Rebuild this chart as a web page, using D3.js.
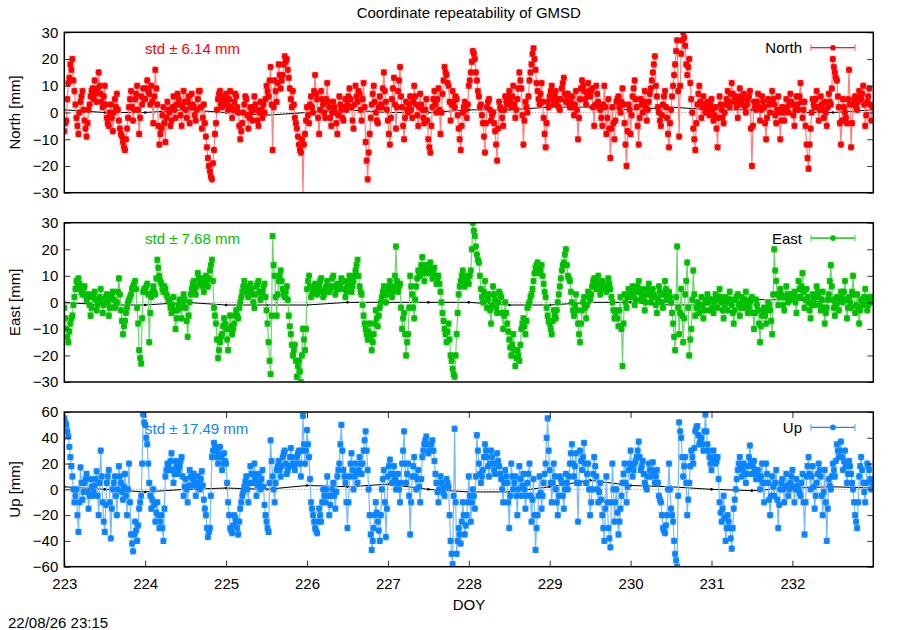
<!DOCTYPE html>
<html>
<head>
<meta charset="utf-8">
<script src="https://cdn.jsdelivr.net/npm/d3@7.9.0/dist/d3.min.js"></script>
<style>
  body { margin: 0; background: #fff; }
  svg { font-family: "Liberation Sans", Arial, sans-serif; }
</style>
</head>
<body>
<svg id="chart" width="900" height="630"></svg>
<script>
// epochs: 80 solutions per day starting at DOY 223.0
const startDoy = 223;
const epochsPerDay = 80;

// North [mm], four rows of 20 per day (223 ... 232)
const north = [
  -7,-4,-3,5,11,13,18,16,20,12,8,3,-2,-5,-8,0,4,6,8,1,
  -3,-6,-9,-4,1,3,6,8,9,5,12,7,4,9,15,10,7,4,2,6,
  10,3,-2,-4,-5,0,3,-2,-7,0,5,2,7,1,-3,-6,-8,-9,-11,-13,
  -14,-10,-6,-2,2,5,8,2,-3,1,5,7,10,1,-8,-2,6,3,9,5,
  5,9,12,8,7,3,10,4,-4,6,16,9,3,-5,-12,-8,-6,-1,2,-4,
  -11,-2,4,1,0,-5,-3,2,6,1,-2,3,7,5,3,-1,-5,2,8,4,
  1,-2,4,6,-4,2,7,3,2,-1,-3,1,5,8,8,2,-6,-2,3,-4,
  -9,-13,-17,-20,-22,-24,-25,-19,-14,-8,-4,1,5,7,8,3,2,5,6,4,
  7,3,1,5,8,2,-2,1,4,7,6,2,0,-5,-10,-7,-4,0,3,6,
  5,-1,-6,-2,2,0,-3,2,6,3,1,-3,-5,0,4,1,-2,3,0,5,
  10,8,6,12,17,3,-14,2,12,8,4,11,18,14,9,12,14,18,21,19,
  20,16,13,9,5,2,8,3,-2,-4,-6,-9,-12,-14,-15,-10,-31,-12,-8,-3,
  2,-1,-4,3,6,2,0,8,14,7,5,-2,-8,1,8,5,3,0,-2,5,
  11,4,2,-2,-5,0,4,2,0,-4,-8,-1,6,3,1,-2,-3,2,5,1,
  3,6,9,5,2,-3,-6,3,10,6,4,8,7,1,-3,5,11,2,-11,-18,
  -25,-15,-8,-2,3,7,10,4,0,-3,-4,2,6,3,2,9,15,8,4,1,
  -3,-8,-12,-2,5,9,13,3,-6,2,8,12,17,6,2,-5,-10,-2,4,1,
  0,3,6,1,-2,4,10,6,3,-1,-5,2,7,3,1,-2,-4,1,5,-3,
  -10,-13,-15,-5,2,5,8,3,0,5,9,1,-8,0,7,12,17,15,14,11,
  10,4,-3,3,8,4,2,6,5,-1,-6,-10,-14,-5,0,2,4,1,-2,3,
  10,12,15,19,23,22,20,15,12,8,6,2,3,-1,-4,-9,-15,-4,2,4,
  5,1,-3,-1,0,-4,-7,-12,-18,-6,4,2,1,-2,-5,1,6,4,3,6,
  8,4,2,6,10,3,-2,1,5,9,15,12,9,-1,-12,-3,4,2,0,6,
  12,15,18,22,24,20,16,11,8,5,3,7,11,4,-2,-8,-13,-4,4,2,
  6,8,10,5,3,6,8,3,5,2,1,5,9,11,13,7,4,6,7,3,
  2,4,6,2,-1,3,8,1,-10,-2,5,9,12,10,8,5,3,7,11,8,
  6,8,9,2,-5,3,10,7,4,2,1,-2,-5,3,10,2,-8,-2,5,-6,
  -17,-6,2,-4,-10,-3,4,5,6,2,0,4,9,3,-4,-12,-20,-7,3,1,
  -8,-1,6,9,12,5,2,-5,-12,-2,5,3,0,4,8,2,-3,1,4,7,
  9,12,15,18,21,10,6,2,0,-3,-5,-1,3,6,8,2,-2,-8,-13,-4,
  1,6,10,14,18,23,27,8,-9,10,22,27,30,28,25,18,14,17,20,11,
  5,0,-6,-10,-14,-4,3,7,10,4,-2,2,6,3,0,2,4,1,-1,3,
  5,1,-3,-1,2,-6,-13,-2,6,3,1,-2,-4,0,3,5,8,4,2,7,
  11,7,4,5,6,2,-2,4,9,6,3,5,7,2,0,3,5,6,8,-6,
  -20,-5,4,2,1,4,7,2,-3,1,6,4,2,-4,-10,-2,5,3,0,4,
  8,5,3,-1,-4,1,6,0,-10,-3,2,0,-3,1,5,2,0,3,7,4,
  3,-1,-5,1,6,3,1,6,11,4,-2,1,4,-5,-12,-17,-21,-12,-6,0,
  5,3,2,5,8,2,-3,1,6,3,1,-2,4,0,-5,2,7,4,3,9,
  20,17,15,13,12,6,2,-4,-12,-3,5,2,0,-2,-4,5,16,3,-13,-4,
  3,5,6,2,1,4,8,6,5,7,10,3,-5,-1,4,6,9,3,-3,2
];

// East [mm]
const east = [
  -2,-6,-10,-13,-15,-11,-8,-6,-5,-1,2,5,8,6,9,7,5,4,3,5,
  6,3,1,2,3,-1,-5,-2,2,3,4,1,-3,-1,0,2,5,1,-4,-1,
  1,2,3,0,-5,-2,2,3,4,1,-2,-1,0,4,9,3,-3,-7,-12,-9,
  -7,-4,-2,0,1,2,3,5,6,7,8,5,-2,-8,-18,-21,-23,-6,4,5,
  5,6,7,3,-15,-4,2,4,6,4,3,9,16,13,10,8,7,5,4,6,
  5,3,2,1,0,-2,-4,-1,2,-3,-10,-6,-3,-1,1,-2,-6,-1,3,1,
  -2,-7,-13,-5,0,3,5,7,8,5,3,6,11,9,7,8,9,6,4,7,
  10,8,6,9,12,14,16,8,-2,-5,-8,-14,-21,-18,-15,-13,-12,-9,-6,-8,
  -10,-14,-18,-10,-5,-9,-12,-10,-8,-5,-3,-5,-6,-2,0,2,4,6,8,6,
  5,3,2,4,7,5,3,0,-2,3,6,7,8,4,1,3,4,6,7,2,
  -3,-8,-15,-22,-27,-5,25,14,10,2,-5,3,8,10,12,8,5,3,2,4,
  6,1,-5,-9,-12,-16,-20,-18,-16,-22,-28,-24,-22,-26,-30,-20,-10,-14,-18,-10,
  5,8,10,6,2,3,4,6,7,5,3,5,6,8,9,4,2,3,5,6,
  8,6,4,5,6,9,10,6,3,5,7,6,5,7,9,8,8,5,2,4,
  6,8,10,7,4,6,8,10,12,14,16,10,6,4,3,-1,-5,-8,-10,-12,
  -14,-11,-8,-13,-18,-15,-12,-8,-3,-6,-9,-5,-2,0,2,4,6,3,0,3,
  5,6,8,4,2,4,6,10,21,8,4,6,7,-2,-10,-6,-4,-12,-20,-15,
  -12,-2,10,6,3,-2,-6,1,6,9,12,11,10,14,17,12,8,11,14,12,
  11,13,15,12,9,11,13,10,7,9,10,7,4,0,-4,-7,-10,-12,-15,-11,
  -8,-14,-20,-22,-25,-27,-28,-20,-12,-4,3,6,8,10,12,9,6,8,10,9,
  7,10,12,20,30,27,25,21,18,16,15,10,5,2,0,4,8,3,-2,1,
  3,-3,-8,-1,6,3,1,-2,-4,0,4,3,2,-4,-10,-5,0,-4,-8,-11,
  -14,-17,-20,-16,-12,-18,-24,-21,-18,-20,-22,-16,-10,-8,-6,-9,-12,-7,-2,-1,
  0,2,3,5,8,11,13,14,15,13,11,12,14,10,7,4,2,-2,-5,-7,
  -8,-10,-12,-7,-3,-5,-6,-3,0,3,6,9,12,14,15,18,20,14,10,9,
  8,4,0,-3,-5,-1,3,-3,-8,-12,-15,-8,-3,0,2,-2,-6,-1,4,2,
  1,3,6,8,9,7,5,8,10,6,3,5,8,7,7,5,4,6,9,7,
  5,2,0,-3,-6,-4,-3,-6,-9,-3,2,-10,-24,-8,3,0,-2,2,5,3,
  2,4,6,2,-1,1,4,6,8,4,1,3,5,1,-3,0,3,5,7,3,
  0,2,5,3,2,-1,-4,1,6,4,3,0,-2,3,8,5,1,2,4,2,
  0,-4,-8,-13,-18,2,21,-2,-12,-4,5,-5,-15,-6,3,8,15,-2,-20,-14,
  -10,1,12,3,-5,-2,0,-2,-4,-1,2,-2,-6,-3,0,1,3,0,-3,1,
  1,-2,-4,0,3,1,-2,2,5,2,0,-3,-6,-2,2,0,-3,1,4,1,
  -1,-4,-8,-3,1,2,3,-1,-5,-2,2,0,-2,1,4,0,-4,-2,0,1,
  2,-4,-10,-4,1,-1,-3,-8,-15,-9,-5,-3,-2,-5,-8,-3,0,-1,-3,-7,
  -12,3,20,12,8,3,-1,2,5,3,2,-1,-3,2,6,3,0,1,3,2,
  1,3,4,0,-4,2,8,5,2,6,11,4,-2,1,5,2,0,-3,-6,-1,
  3,1,-1,2,6,4,2,-1,-3,1,4,-2,-8,-4,-2,1,3,8,14,6,
  1,-2,-5,-1,2,0,-3,1,4,2,0,4,8,1,-6,-2,2,0,-2,4,
  10,3,-4,-1,3,-2,-8,-3,1,0,-1,2,5,1,-3,-1,2,1,0,2
];

// Up [mm]
const up = [
  55,52,50,45,41,33,25,18,10,0,-10,-5,0,-20,-33,-10,17,5,-8,-2,
  5,8,12,-2,-15,-5,8,2,-5,-2,3,8,14,-5,-20,5,30,10,-10,-25,
  -33,-12,5,10,15,-10,-38,-15,0,5,10,-5,-20,0,18,10,5,-2,-8,2,
  12,-5,-20,0,20,-10,-35,-42,-48,-35,-25,-32,-40,-28,-15,-10,-5,20,58,52,
  50,40,35,20,5,-5,-15,-8,0,-12,-25,-18,-10,-20,-30,-25,-20,-30,-40,-15,
  10,15,20,18,15,22,28,15,5,12,22,18,12,15,18,22,25,10,-5,2,
  8,0,-10,3,15,10,3,8,12,5,-5,2,10,5,0,8,14,3,-8,-15,
  -20,-30,-37,-33,-30,-5,25,30,36,33,30,25,20,28,33,25,15,20,28,22,
  20,5,-10,-20,-30,-32,-34,-28,-20,-22,-25,-30,-35,-25,-15,-10,-5,-2,2,6,
  10,0,-10,5,18,12,5,12,20,8,-5,3,12,5,0,8,15,2,-12,-20,
  -25,-30,-33,5,38,22,10,0,-10,5,15,18,22,15,10,18,25,28,30,20,
  12,15,18,25,32,25,20,18,15,20,25,28,30,20,10,30,57,35,20,30,
  46,35,25,8,-10,-15,-20,-25,-30,-32,-34,-25,-15,-20,-25,-10,0,-5,-10,0,
  10,-5,-20,-12,-5,0,5,-5,-15,-2,10,15,20,35,50,30,15,10,5,-10,
  -30,-10,10,20,28,15,0,10,20,12,5,15,25,20,12,20,30,38,45,30,
  15,0,-20,-35,-47,-40,-30,-20,-10,-18,-25,-32,-40,-20,0,8,15,-10,-37,-15,
  10,18,23,12,5,12,18,8,0,5,12,0,-10,5,20,30,45,20,5,12,
  20,-5,-35,-10,10,18,25,10,0,8,15,2,-10,8,25,30,35,38,41,35,
  28,30,30,35,38,30,22,12,5,-2,-10,0,10,5,0,-3,-5,2,8,5,
  2,-20,-40,-50,-58,-5,47,-10,-50,-40,-30,-35,-42,-25,-10,-20,-35,-28,-20,-10,
  10,-5,-25,-10,0,-5,-15,10,42,30,20,12,5,10,15,25,35,30,25,18,
  10,20,30,25,20,15,12,20,28,22,18,12,8,0,-10,5,15,10,5,-10,
  -30,-5,20,10,0,5,10,-5,-20,0,18,8,-5,3,12,0,-15,-5,5,12,
  20,-5,-25,-8,8,-20,-47,-30,-20,-5,10,-3,-15,-5,5,12,20,40,55,30,
  15,5,-10,5,20,10,0,-10,-20,-5,10,8,5,-5,-15,0,12,5,0,10,
  20,28,35,20,10,18,28,5,-25,5,30,22,15,25,36,20,5,12,20,0,
  -20,-10,0,12,25,18,10,0,-10,-2,5,-8,-20,-30,-40,-15,10,-10,-30,-38,
  -45,-10,20,0,-25,-10,0,-18,-35,-25,-15,-5,5,12,20,5,-10,2,15,20,
  30,18,10,15,20,22,25,30,37,25,15,18,22,12,5,2,0,10,20,15,
  10,15,21,12,5,10,15,5,-5,-8,-10,-20,-30,-32,-34,-28,-20,0,20,0,
  -15,-20,-25,-40,-50,-55,-60,-5,52,45,40,25,10,18,25,5,-20,-8,5,18,
  30,25,20,32,45,48,49,42,35,38,40,35,30,45,58,45,35,30,25,20,
  15,22,30,25,20,22,25,8,-10,-18,-25,-15,-5,-22,-40,-30,-20,-25,-30,-38,
  -46,-30,-15,-8,0,8,15,20,25,18,10,15,20,12,5,12,18,25,34,22,
  12,18,22,15,8,12,15,8,0,10,20,5,-10,5,20,12,5,-8,-20,-5,
  10,2,-5,5,15,-8,-30,-12,0,5,8,0,-10,2,12,3,-5,0,5,10,
  15,2,-10,0,8,3,0,-3,-5,5,12,-10,-35,-10,10,18,25,12,0,10,
  18,2,-15,-5,5,12,20,15,10,-5,-20,-2,15,-10,-40,-15,8,3,0,10,
  20,15,10,22,35,30,25,30,37,25,15,22,30,18,5,12,22,18,12,5,
  0,-10,-20,-25,-30,-10,10,18,25,15,5,-2,-10,5,20,18,15,8,0,5
];

// formal errors [mm]
const northSigma = 1;
const eastSigma = 1;
const upSigma = 2;

// smoothed reference line, every half day from 223.0 to 233.0
const trendDoy = [223,223.5,224,224.5,225,225.5,226,226.5,227,227.5,228,228.5,229,229.5,230,230.5,231,231.5,232,232.5,233];
const northTrend = [1,0,0,1,0,-1,0,1,0,0,1,1,2,2,1,2,1,1,0,0,1];
const eastTrend = [0,-1,-1,0,-1,-1,-1,0,0,0,0,-1,-1,0,0,-1,-1,1,1,0,0];
const upTrend = [2,0,-2,0,1,0,3,2,4,0,-2,-2,2,7,3,2,0,-1,1,2,1];

const xTicks = [223,224,225,226,227,228,229,230,231,232];
const enTicks = [-30,-20,-10,0,10,20,30];
const upTicks = [-60,-40,-20,0,20,40,60];
const stdNorth = "std \u00b1 6.14 mm";
const stdEast = "std \u00b1 7.68 mm";
const stdUp = "std \u00b1 17.49 mm";

const svg = d3.select('#chart');
const x = d3.scaleLinear().domain([223, 233]).range([64.3, 873.3]);
const doyOf = (i) => startDoy + i / epochsPerDay;
const fontFamily = '"Liberation Sans", Arial, sans-serif';

const panels = [
  { name: 'North', values: north, sigma: northSigma, trend: northTrend, std: stdNorth,
    color: '#ff0000', light: '#ff8080', top: 32.3, bottom: 192.7, domain: [-30, 30], ticks: enTicks },
  { name: 'East', values: east, sigma: eastSigma, trend: eastTrend, std: stdEast,
    color: '#00c000', light: '#70d470', top: 222.7, bottom: 382, domain: [-30, 30], ticks: enTicks },
  { name: 'Up', values: up, sigma: upSigma, trend: upTrend, std: stdUp,
    color: '#0a84ff', light: '#78b8ff', top: 412, bottom: 566.7, domain: [-60, 60], ticks: upTicks }
];

panels.forEach((p, k) => {
  const y = d3.scaleLinear().domain(p.domain).range([p.bottom, p.top]);
  const clipId = 'clip' + k;
  svg.append('clipPath').attr('id', clipId)
    .append('rect')
    .attr('x', x.range()[0]).attr('y', p.top)
    .attr('width', x.range()[1] - x.range()[0]).attr('height', p.bottom - p.top);

  const g = svg.append('g').attr('clip-path', `url(#${clipId})`);

  // zero line
  g.append('line')
    .attr('x1', x.range()[0]).attr('x2', x.range()[1])
    .attr('y1', y(0)).attr('y2', y(0))
    .attr('stroke', '#888').attr('stroke-width', 1).attr('stroke-dasharray', '1,2');

  // reference line
  const trendPts = trendDoy.map((d, i) => [d, p.trend[i]]);
  g.append('path')
    .attr('d', d3.line().x(d => x(d[0])).y(d => y(d[1]))(trendPts))
    .attr('fill', 'none').attr('stroke', '#000').attr('stroke-width', 1);
  g.selectAll('.tdot').data(trendPts).join('circle')
    .attr('cx', d => x(d[0])).attr('cy', d => y(d[1])).attr('r', 1.3).attr('fill', '#000');

  const pts = p.values.map((v, i) => ({ t: doyOf(i), v: v }));

  // connecting line
  g.append('path')
    .attr('d', d3.line().x(d => x(d.t)).y(d => y(d.v))(pts))
    .attr('fill', 'none').attr('stroke', p.light).attr('stroke-width', 1.2);

  // error bars
  const eb = g.append('g').attr('stroke', p.light).attr('stroke-width', 1.2);
  pts.forEach(d => {
    const x0 = x(d.t);
    const lo = y(d.v - p.sigma), hi = y(d.v + p.sigma);
    eb.append('line').attr('x1', x0).attr('x2', x0).attr('y1', lo).attr('y2', hi);
    eb.append('line').attr('x1', x0 - 3.5).attr('x2', x0 + 3.5).attr('y1', lo).attr('y2', lo);
    eb.append('line').attr('x1', x0 - 3.5).attr('x2', x0 + 3.5).attr('y1', hi).attr('y2', hi);
  });

  // markers
  g.selectAll('.pt').data(pts).join('circle')
    .attr('cx', d => x(d.t)).attr('cy', d => y(d.v))
    .attr('r', 3.1).attr('fill', p.color);

  // axes
  const fs = '15px';
  const left = svg.append('g').attr('transform', `translate(${x.range()[0]},0)`)
    .call(d3.axisLeft(y).tickValues(p.ticks).tickSizeInner(-6).tickSizeOuter(0).tickPadding(6));
  const right = svg.append('g').attr('transform', `translate(${x.range()[1]},0)`)
    .call(d3.axisRight(y).tickValues(p.ticks).tickSizeInner(-6).tickSizeOuter(0).tickFormat(''));
  [left, right].forEach(a => {
    a.select('.domain').remove();
    a.selectAll('line').attr('stroke', '#333');
    a.selectAll('text').attr('fill', '#000').style('font-size', fs).style('font-family', fontFamily);
  });

  if (p.name === 'Up') {
    const bottom = svg.append('g').attr('transform', `translate(0,${p.bottom})`)
      .call(d3.axisBottom(x).tickValues(xTicks).tickSizeInner(-6).tickSizeOuter(0).tickPadding(12).tickFormat(d3.format('d')));
    const topAx = svg.append('g').attr('transform', `translate(0,${p.top})`)
      .call(d3.axisTop(x).tickValues(xTicks).tickSizeInner(-6).tickSizeOuter(0).tickFormat(''));
    [bottom, topAx].forEach(a => {
      a.select('.domain').remove();
      a.selectAll('line').attr('stroke', '#333');
      a.selectAll('text').attr('fill', '#000').style('font-size', fs).style('font-family', fontFamily);
    });
  }

  // border
  svg.append('rect')
    .attr('x', x.range()[0]).attr('y', p.top)
    .attr('width', x.range()[1] - x.range()[0]).attr('height', p.bottom - p.top)
    .attr('fill', 'none').attr('stroke', '#000').attr('stroke-width', 1.5);

  // y label
  svg.append('text')
    .attr('transform', `translate(20,${(p.top + p.bottom) / 2}) rotate(-90)`)
    .attr('text-anchor', 'middle').style('font-size', fs)
    .text(`${p.name} [mm]`);

  // std label
  svg.append('text')
    .attr('x', 145).attr('y', p.top + 21.5)
    .attr('fill', p.color).style('font-size', fs)
    .text(p.std);

  // legend
  const ly = p.top + 15.4;
  svg.append('text')
    .attr('x', 802).attr('y', p.top + 21)
    .attr('text-anchor', 'end').style('font-size', fs)
    .text(p.name);
  const lg = svg.append('g').attr('stroke', p.light).attr('stroke-width', 1.2);
  lg.append('line').attr('x1', 811).attr('x2', 855).attr('y1', ly).attr('y2', ly);
  lg.append('line').attr('x1', 811).attr('x2', 811).attr('y1', ly - 3.5).attr('y2', ly + 3.5);
  lg.append('line').attr('x1', 855).attr('x2', 855).attr('y1', ly - 3.5).attr('y2', ly + 3.5);
  svg.append('line').attr('x1', 811).attr('x2', 855).attr('y1', ly).attr('y2', ly)
    .attr('stroke', p.color).attr('stroke-width', 1);
  svg.append('circle').attr('cx', 833).attr('cy', ly).attr('r', 2.8).attr('fill', p.color);
});

svg.append('text')
  .attr('x', 468.8).attr('y', 18.3)
  .attr('text-anchor', 'middle').style('font-size', '15px')
  .text('Coordinate repeatability of GMSD');

svg.append('text')
  .attr('x', 469).attr('y', 610)
  .attr('text-anchor', 'middle').style('font-size', '15px')
  .text('DOY');

svg.append('text')
  .attr('x', 8).attr('y', 628)
  .style('font-size', '15px')
  .text('22/08/26 23:15');
</script>
</body>
</html>
